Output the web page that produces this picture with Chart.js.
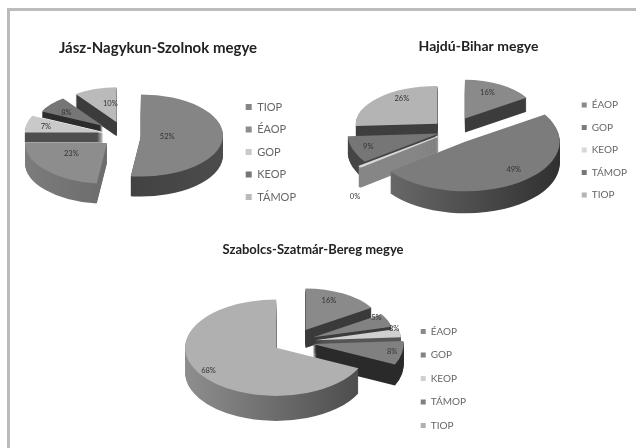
<!DOCTYPE html>
<html><head><meta charset="utf-8">
<script src="https://cdn.jsdelivr.net/npm/chart.js@4"></script>
<style>
html,body{margin:0;padding:0;background:#fff;overflow:hidden;width:636px;height:448px}
#frame{position:absolute;left:7px;top:8px;right:-10px;bottom:-10px;border:3px solid #bcbcbc;box-sizing:border-box}
.p{position:absolute}
canvas{filter:blur(0.65px)}
</style></head><body>
<div id="frame"></div>
<div class="p" style="left:10px;top:36px;width:296px;height:232px"><canvas id="c1"></canvas></div>
<div class="p" style="left:320px;top:36px;width:317px;height:228px"><canvas id="c2"></canvas></div>
<div class="p" style="left:150px;top:238px;width:326px;height:281px"><canvas id="c3"></canvas></div>
<script>
// ---- data ----
const titleJasz = 'Jász-Nagykun-Szolnok megye';
const categoriesJasz = ['TIOP','ÉAOP','GOP','KEOP','TÁMOP'];
const valuesJasz = [52,23,7,8,10];

const titleHajdu = 'Hajdú-Bihar megye';
const categoriesHajdu = ['ÉAOP','GOP','KEOP','TÁMOP','TIOP'];
const valuesHajdu = [16,49,0.3,9,26];

const titleSzabolcs = 'Szabolcs-Szatmár-Bereg megye';
const categoriesSzabolcs = ['ÉAOP','GOP','KEOP','TÁMOP','TIOP'];
const valuesSzabolcs = [16,5,3,8,68];

// ---- styles ----
const colorsJasz = ['#858585','#8d8d8d','#c9c9c9','#767676','#bababa'];
const sidesJasz = [['#3a3a3a','#4c4c4c'],['#7c7c7c','#5c5c5c'],['#4e4e4e','#4e4e4e'],['#2c2c2c','#2c2c2c'],['#3c3c3c','#3c3c3c']];
const colorsHajdu = ['#8a8a8a','#7c7c7c','#d8d8d8','#767676','#b4b4b4'];
const sidesHajdu = [['#3c3c3c','#3c3c3c'],['#6e6e6e','#303030'],['#868686','#868686'],['#454545','#454545'],['#3e3e3e','#3e3e3e']];
const colorsSzabolcs = ['#8a8a8a','#828282','#d0d0d0','#808080','#b0b0b0'];
const sidesSzabolcs = [['#3a3a3a','#3a3a3a'],['#3c3c3c','#3c3c3c'],['#555555','#555555'],['#2a2a2a','#2a2a2a'],['#8e8e8e','#4a4a4a']];

function makePie(id, title, cats, vals, colors, look){
  new Chart(document.getElementById(id),{
    type:'pie',
    data:{labels:cats,datasets:[{data:vals,backgroundColor:colors,borderWidth:0}]},
    options:{
      responsive:true,maintainAspectRatio:false,animation:false,
      radius:look.radius,
      layout:{padding:0},
      events:[],
      plugins:{
        tooltip:{enabled:false},
        title:{display:true,text:title,color:'#222',font:{family:'Lato',size:look.titleSize,weight:'bold'},padding:{top:look.titleTop,bottom:4}},
        legend:{position:'right',labels:{boxWidth:look.box,boxHeight:look.box,padding:look.legendGap,color:'#666',font:{family:'Lato',size:look.legendSize}}},
        tilted:look
      }
    },
    plugins:[tiltedPie]
  });
}

const tiltedPie = {
  id:'tilted',
  beforeDatasetDraw(chart,args,opts){
    const ctx = chart.ctx, arcs = chart.getDatasetMeta(0).data;
    const place = (arc,i,drop)=>{
      const mid=(arc.startAngle+arc.endAngle)/2, e=opts.explode[i];
      const x=opts.center[0]+Math.cos(mid)*e;
      const y=opts.center[1]+Math.sin(mid)*e*opts.tilt+drop;
      ctx.save();
      ctx.translate(x,y); ctx.scale(1,opts.tilt*opts.squash[i]); ctx.translate(-arc.x,-arc.y);
    };
    const clone=(arc,i,fill,border)=>{
      const c=Object.create(arc);
      c.outerRadius=arc.outerRadius*opts.scale[i];
      c.options=Object.assign({},arc.options,{backgroundColor:fill,borderColor:fill,borderWidth:border});
      return c;
    };
    const order=arcs.map((a,i)=>i).sort((p,q)=>{
      const my=i=>{const a=arcs[i],m=(a.startAngle+a.endAngle)/2;return Math.sin(m)*opts.explode[i];};
      return my(p)-my(q);
    });
    order.forEach(i=>{
      const arc=arcs[i], R=arc.outerRadius*opts.scale[i];
      const g=ctx.createLinearGradient(arc.x-R,0,arc.x+R,0);
      g.addColorStop(0,opts.sides[i][0]); g.addColorStop(1,opts.sides[i][1]);
      const side=clone(arc,i,g,arc.circumference<0.1?2:0);
      for(let d=opts.depth[i];d>=1;d--){ place(arc,i,d); side.draw(ctx); ctx.restore(); }
    });
    order.forEach(i=>{
      const arc=arcs[i];
      place(arc,i,0); clone(arc,i,arc.options.backgroundColor,arc.circumference<0.1?2:0).draw(ctx); ctx.restore();
    });
    return false;
  },
  afterDraw(chart,args,opts){
    const ctx=chart.ctx, arcs=chart.getDatasetMeta(0).data, vals=chart.data.datasets[0].data;
    ctx.save();
    ctx.font='7.5px Lato'; ctx.fillStyle='#333'; ctx.textAlign='center'; ctx.textBaseline='middle';
    arcs.forEach((arc,i)=>{
      const mid=(arc.startAngle+arc.endAngle)/2;
      const r=opts.explode[i]+opts.labelFrac[i]*arc.outerRadius*opts.scale[i];
      const x=opts.center[0]+Math.cos(mid)*r+opts.labelNudge[i][0];
      const y=opts.center[1]+Math.sin(mid)*r*opts.tilt+opts.labelNudge[i][1];
      ctx.fillText(Math.round(vals[i])+'%',x,y);
    });
    ctx.restore();
  }
};

makePie('c1',titleJasz,categoriesJasz,valuesJasz,colorsJasz,{
  radius:82,tilt:0.5,center:[115,99],
  explode:[16,24,22,29,27],scale:[1,1,0.96,0.82,0.85],squash:[1,1,1,1,1],depth:[20,20,10,6,14],sides:sidesJasz,
  labelFrac:[0.32,0.58,0.75,0.7,0.57],labelNudge:[[0,0],[0,-5],[0,0],[0,2],[6,0]],
  titleSize:15,titleTop:3,legendGap:11.5,legendSize:11,box:6});
makePie('c2',titleHajdu,categoriesHajdu,valuesHajdu,colorsHajdu,{
  radius:96,tilt:0.53,center:[132,95],
  explode:[27,24,18,14,20],scale:[0.76,0.98,1,0.95,0.85],squash:[1,1,1,1,0.87],depth:[14,22,20,18,12],sides:sidesHajdu,
  labelFrac:[0.64,0.9,1,0.82,0.6],labelNudge:[[0,-4],[0,-9],[-5,30],[0,0],[0,-7]],
  titleSize:14,titleTop:2,legendGap:12.5,legendSize:10,box:5});
makePie('c3',titleSzabolcs,categoriesSzabolcs,valuesSzabolcs,colorsSzabolcs,{
  radius:91,tilt:0.53,center:[143,104],
  explode:[26,22,22,20,20],scale:[0.86,0.89,0.95,1,1],squash:[1,1,1,1,1],depth:[18,16,12,21,25],sides:sidesSzabolcs,
  labelFrac:[0.62,0.85,0.93,0.89,0.88],labelNudge:[[0,-7],[0,-5],[0,-5],[0,0],[0,0]],
  titleSize:13,titleTop:4,legendGap:13.5,legendSize:10,box:5});
</script>
</body></html>
